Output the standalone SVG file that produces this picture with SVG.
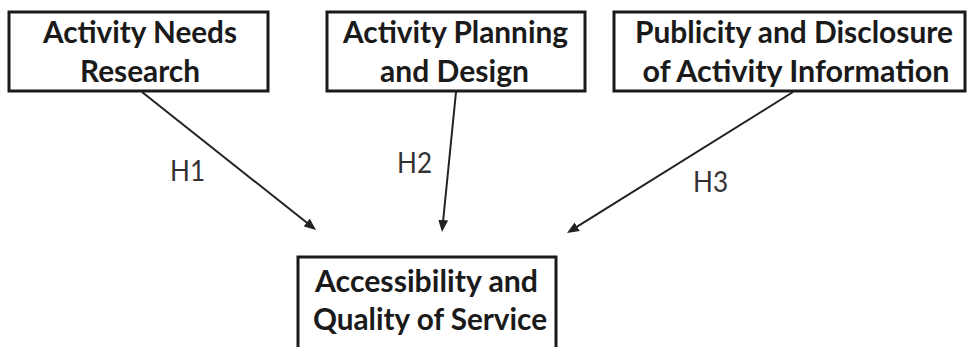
<svg xmlns="http://www.w3.org/2000/svg" width="968" height="347" viewBox="0 0 968 347">
  <style>
    .box { fill: #ffffff; stroke: #1a1a1a; stroke-width: 3; }
    .t { font-family: Lato, "Open Sans", "Liberation Sans", sans-serif; font-weight: bold; font-size: 30px; fill: #1a1a1a; text-anchor: middle; }
    .lbl { font-family: Lato, "Open Sans", "Liberation Sans", sans-serif; font-size: 29px; fill: #333333; }
    .edge { stroke: #222222; stroke-width: 2; fill: none; marker-end: url(#arrow); }
  </style>
  <defs>
    <marker id="arrow" viewBox="0 0 12 10" refX="2" refY="5" markerWidth="12" markerHeight="10" markerUnits="userSpaceOnUse" orient="auto">
      <path d="M0,0 L12,5 L0,10 z" fill="#222222"/>
    </marker>
  </defs>
  <rect width="968" height="347" fill="#ffffff"/>

  <g id="n1">
    <rect class="box" x="9" y="12" width="259" height="79"/>
    <text class="t" x="140" y="43" textLength="194" lengthAdjust="spacingAndGlyphs">Activity Needs</text>
    <text class="t" x="140" y="82" textLength="120" lengthAdjust="spacingAndGlyphs">Research</text>
  </g>
  <g id="n2">
    <rect class="box" x="327" y="12" width="258" height="79"/>
    <text class="t" x="455.5" y="43" textLength="225" lengthAdjust="spacingAndGlyphs">Activity Planning</text>
    <text class="t" x="454.5" y="82" textLength="149" lengthAdjust="spacingAndGlyphs">and Design</text>
  </g>
  <g id="n3">
    <rect class="box" x="614" y="12" width="351" height="79"/>
    <text class="t" x="794" y="43" textLength="318" lengthAdjust="spacingAndGlyphs">Publicity and Disclosure</text>
    <text class="t" x="796" y="82" textLength="307" lengthAdjust="spacingAndGlyphs">of Activity Information</text>
  </g>
  <g id="n4">
    <rect class="box" x="298" y="257" width="258" height="95"/>
    <text class="t" x="426.5" y="292" textLength="223" lengthAdjust="spacingAndGlyphs">Accessibility and</text>
    <text class="t" x="430" y="330" textLength="234" lengthAdjust="spacingAndGlyphs">Quality of Service</text>
  </g>

  <g id="edges">
    <line class="edge" x1="142" y1="92" x2="308.2" y2="223.8"/>
    <line class="edge" x1="456" y1="92" x2="443" y2="222"/>
    <line class="edge" x1="793" y1="92" x2="575.5" y2="227.7"/>
    <text class="lbl" x="170" y="181" textLength="35" lengthAdjust="spacingAndGlyphs">H1</text>
    <text class="lbl" x="397" y="173" textLength="35" lengthAdjust="spacingAndGlyphs">H2</text>
    <text class="lbl" x="693" y="192" textLength="35" lengthAdjust="spacingAndGlyphs">H3</text>
  </g>
</svg>
